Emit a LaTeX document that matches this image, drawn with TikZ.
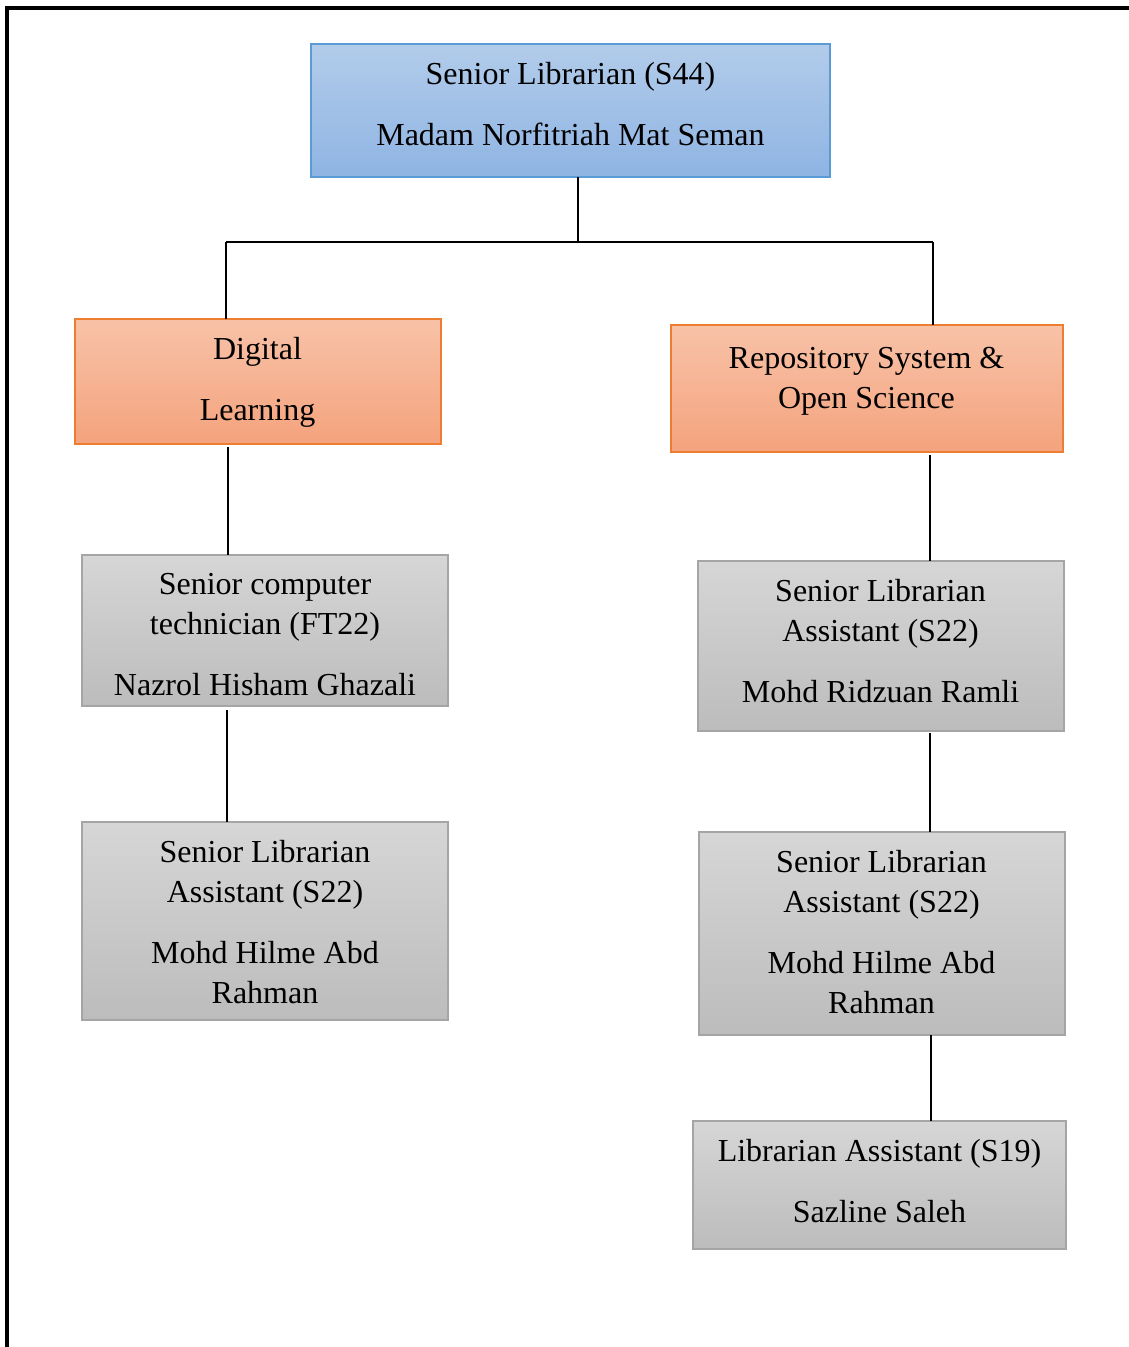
\documentclass[tikz,border=0pt]{standalone}
\usepackage{fontspec}
\setmainfont{Liberation Serif}
\definecolor{bluetop}{HTML}{B2CCEA}
\definecolor{bluebot}{HTML}{8FB4E3}
\definecolor{blueedge}{HTML}{5B9BD5}
\definecolor{ortop}{HTML}{F8C2A8}
\definecolor{orbot}{HTML}{F4A37D}
\definecolor{oredge}{HTML}{ED7D31}
\definecolor{grtop}{HTML}{D6D6D6}
\definecolor{grbot}{HTML}{BCBCBC}
\definecolor{gredge}{HTML}{A5A5A5}
\newcommand\orgbox[6]{%
  \node[#2, minimum width={(#5-#3)*0.75pt}, minimum height={(#6-#4)*0.75pt}] (#1) at ({(#3+#5)/2},{(#4+#6)/2}) {};}
\begin{document}
\begin{tikzpicture}[x=0.75pt,y=-0.75pt,
  basebox/.style={rectangle, line width=1pt, inner sep=0pt, outer sep=0pt},
  bluebox/.style={basebox, draw=blueedge, top color=bluetop, bottom color=bluebot},
  orangebox/.style={basebox, draw=oredge, top color=ortop, bottom color=orbot},
  graybox/.style={basebox, draw=gredge, top color=grtop, bottom color=grbot},
  txt/.style={align=center, inner sep=0pt, font=\fontsize{24}{30}\selectfont},
  link/.style={draw=black, line width=1.1pt}]
\useasboundingbox (0,0) rectangle (1129,1347);
% frame
\draw[line width=2.5pt] (7,1347) -- (7,8) -- (1129,8);
% boxes
\orgbox{top}{bluebox}{311}{44}{830}{177}
\orgbox{dl}{orangebox}{75}{319}{441}{444}
\orgbox{rep}{orangebox}{671}{325}{1063}{452}
\orgbox{ct}{graybox}{82}{555}{448}{706}
\orgbox{lh}{graybox}{82}{822}{448}{1020}
\orgbox{rr}{graybox}{698}{561}{1064}{731}
\orgbox{rh}{graybox}{699}{832}{1065}{1035}
\orgbox{la}{graybox}{693}{1121}{1066}{1249}
% texts
\node[txt] (topt) at (570.5,104) {Senior Librarian (S44)\\[15.75pt]Madam Norfitriah Mat Seman};
\node[txt] (dlt) at (257.5,382.5) {Digital\\[15.75pt]Learning};
\node[txt] (rept) at (866.5,381) {Repository System \&\\Open Science};
\node[txt] (ctt) at (265,635) {Senior computer\\technician (FT22)\\[15.75pt]Nazrol Hisham Ghazali};
\node[txt] (lht) at (265,922) {Senior Librarian\\Assistant (S22)\\[15.75pt]Mohd Hilme Abd\\Rahman};
\node[txt] (rrt) at (880.5,641) {Senior Librarian\\Assistant (S22)\\[15.75pt]Mohd Ridzuan Ramli};
\node[txt] (rht) at (881.5,932) {Senior Librarian\\Assistant (S22)\\[15.75pt]Mohd Hilme Abd\\Rahman};
\node[txt] (lat) at (879.5,1181) {Librarian Assistant (S19)\\[15.75pt]Sazline Saleh};
% connectors
\coordinate (hub) at (578,242);
\coordinate (jL) at (226,242);
\coordinate (jR) at (933,242);
\draw[link] (hub |- top.south) -- (hub);
\draw[link] (jL) -- (jR);
\draw[link] (jL) -- (jL |- dl.north);
\draw[link] (jR) -- (jR |- rep.north);
\coordinate (c1) at (228,447);
\draw[link] (c1) -- (c1 |- ct.north);
\coordinate (c2) at (930,455);
\draw[link] (c2) -- (c2 |- rr.north);
\coordinate (c3) at (227,710);
\draw[link] (c3) -- (c3 |- lh.north);
\coordinate (c4) at (930,733);
\draw[link] (c4) -- (c4 |- rh.north);
\coordinate (c5) at (931,1035);
\draw[link] (c5) -- (c5 |- la.north);
\end{tikzpicture}
\end{document}
